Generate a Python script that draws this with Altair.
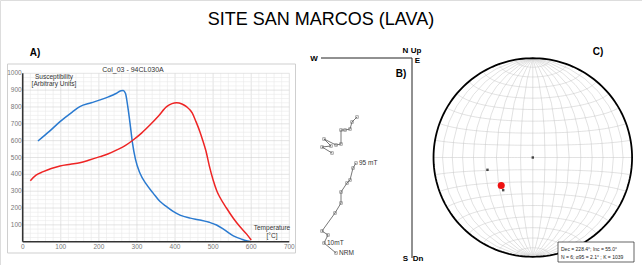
import altair as alt
import numpy as np
import pandas as pd

# ---------------- Panel A: susceptibility vs temperature ----------------
blue_T = [40, 70, 98, 130, 150, 180, 203, 225, 245, 258, 264, 270, 276, 282, 288, 296, 308, 325,
          343, 360, 378, 395, 413, 440, 465, 490, 509, 530, 553, 575, 590, 600]
blue_k = [598, 655, 713, 770, 802, 825, 842, 860, 880, 897, 898, 880, 800, 700, 590, 490, 406, 340,
          287, 240, 208, 180, 158, 140, 129, 115, 99, 70, 35, 15, 5, 0]
red_T = [20, 35, 54, 75, 98, 125, 150, 175, 203, 225, 247, 270, 290, 312, 334, 356, 378, 392, 404,
         418, 430, 445, 455, 465, 473, 481, 490, 500, 510, 517, 535, 553, 570, 588, 600]
red_k = [362, 395, 416, 435, 450, 460, 469, 485, 505, 522, 545, 572, 604, 645, 693, 745, 802, 820, 825,
         818, 802, 765, 713, 655, 600, 540, 450, 366, 300, 267, 200, 139, 90, 45, 10]
x_ticks = [0, 100, 200, 300, 400, 500, 600, 700]
y_ticks = [100, 200, 300, 400, 500, 600, 700, 800, 900, 1000]
x_grid = list(range(20, 701, 20))
y_grid = list(range(25, 1001, 25))

# ---------------- Panel B: Zijderveld diagram ----------------
hor_E = [-80, -90, -81, -88, -76, -71, -71, -67, -62, -60, -55]
hor_N = [-95, -89, -88, -81, -87, -86, -72, -72, -71, -64, -59]
ver_E = [-76, -88, -84, -90, -77, -71, -71, -65, -62, -59, -56]
ver_U = [-195, -185, -177, -173, -155, -145, -134, -125, -122, -110, -105]
step_labels = ["NRM", "10mT", "", "", "", "", "", "", "", "", "95 mT"]

# ---------------- Panel C: stereonet ----------------
site_dec = [228.4]
site_inc = [55.0]
spec_dec = [0.0, 254.8, 222.2]
spec_inc = [90.0, 50.9, 53.4]
stats_lines = ["Dec = 228.4°; Inc = 55.0°", "N = 6;  α95 = 2.1° ; K = 1039"]

FONT = "Liberation Sans"

# ---------- Panel A scales ----------
xA = alt.Scale(domain=[0, 700], range=[22.7, 289.3], nice=False, zero=False)
yA = alt.Scale(domain=[0, 1000], range=[241.7, 73.3], nice=False, zero=False)

dfA = pd.DataFrame({
    "T": blue_T + red_T,
    "k": blue_k + red_k,
    "run": ["heat"] * len(blue_T) + ["cool"] * len(red_T),
})

frameA = alt.Chart(pd.DataFrame({"a": [0]})).mark_rect(
    fill="white", stroke="#cfcfcf", strokeWidth=1
).encode(x=alt.value(7.5), x2=alt.value(295.5), y=alt.value(64), y2=alt.value(253))

gx = pd.DataFrame({"g": x_grid, "lo": 0, "hi": 1000, "major": [v % 100 == 0 for v in x_grid]})
gy = pd.DataFrame({"g": y_grid, "lo": 0, "hi": 700, "major": [v % 100 == 0 for v in y_grid]})

gridX = alt.Chart(gx).mark_rule(strokeWidth=0.6).encode(
    x=alt.X("g:Q", scale=xA, axis=None),
    y=alt.Y("lo:Q", scale=yA, axis=None),
    y2="hi:Q",
    stroke=alt.condition("datum.major", alt.value("#d2d2d2"), alt.value("#eaeaea")),
)
gridY = alt.Chart(gy).mark_rule(strokeWidth=0.6).encode(
    y=alt.Y("g:Q", scale=yA, axis=None),
    x=alt.X("lo:Q", scale=xA, axis=None),
    x2="hi:Q",
    stroke=alt.condition("datum.major", alt.value("#d2d2d2"), alt.value("#eaeaea")),
)

curves = alt.Chart(dfA).mark_line(strokeWidth=1.5, interpolate="monotone").encode(
    x=alt.X("T:Q", scale=xA, axis=None),
    y=alt.Y("k:Q", scale=yA, axis=None),
    detail="run:N",
    stroke=alt.Stroke("run:N", scale=alt.Scale(domain=["heat", "cool"], range=["#2a7ad0", "#ee2424"]),
                      legend=None),
)

# tick labels drawn as text marks through panel A's scales
xtl = pd.DataFrame({"T": x_ticks, "k": 0, "lab": [str(v) for v in x_ticks]})
ytl = pd.DataFrame({"T": 0, "k": y_ticks, "lab": [str(v) for v in y_ticks]})
xTickText = alt.Chart(xtl).mark_text(
    font=FONT, fontSize=6.5, color="#777", baseline="top", dy=2
).encode(x=alt.X("T:Q", scale=xA, axis=None), y=alt.Y("k:Q", scale=yA, axis=None), text="lab:N")
yTickText = alt.Chart(ytl).mark_text(
    font=FONT, fontSize=6.5, color="#777", align="right", baseline="middle", dx=-1
).encode(x=alt.X("T:Q", scale=xA, axis=None), y=alt.Y("k:Q", scale=yA, axis=None), text="lab:N")

# dark axis lines of panel A (drawn last)
axisAx = alt.Chart(pd.DataFrame({"a": [0]})).mark_rule(color="#333333", strokeWidth=1.6).encode(
    x=alt.value(22.7), x2=alt.value(289.3), y=alt.value(241.7))
axisAy = alt.Chart(pd.DataFrame({"a": [0]})).mark_rule(color="#333333", strokeWidth=1.6).encode(
    x=alt.value(22.7), y=alt.value(73.3), y2=alt.value(241.7))


def label(text, x, y, size=7, bold=False, align="center", color="black", baseline="middle"):
    return alt.Chart(pd.DataFrame({"a": [0]})).mark_text(
        text=text, font=FONT, fontSize=size, fontWeight="bold" if bold else "normal",
        align=align, baseline=baseline, color=color
    ).encode(x=alt.value(x), y=alt.value(y))


labelsA = [
    label("SITE SAN MARCOS (LAVA)", 321, 20, size=18),
    label("A)", 35, 53, size=10, bold=True),
    label("Col_03 - 94CL030A", 133, 69.5, size=7, color="#333"),
    label("Susceptibility", 54, 77, size=6.5, color="#333"),
    label("[Arbitrary Units]", 54, 84, size=6.5, color="#333"),
    label("Temperature", 272, 227.5, size=6.5, color="#333"),
    label("[°C]", 272, 235.5, size=6.5, color="#333"),
]

# ---------- Panel B ----------
xB = alt.Scale(domain=[-100, 0], range=[312, 412], nice=False, zero=False)
yB = alt.Scale(domain=[-200, 0], range=[258, 58], nice=False, zero=False)

axesB = pd.DataFrame({"x": [-91, 0], "x2": [0, 0], "y": [0, -200], "y2": [0, 0]})
axesBrule = alt.Chart(axesB).mark_rule(color="#222", strokeWidth=1).encode(
    x=alt.X("x:Q", scale=xB, axis=None), x2="x2:Q",
    y=alt.Y("y:Q", scale=yB, axis=None), y2="y2:Q",
)

dfH = pd.DataFrame({"E": hor_E, "N": hor_N, "i": range(len(hor_E))})
dfV = pd.DataFrame({"E": ver_E, "U": ver_U, "i": range(len(ver_E)), "lab": step_labels})


def zij(df, ycol):
    base = alt.Chart(df).encode(
        x=alt.X("E:Q", scale=xB, axis=None),
        y=alt.Y(f"{ycol}:Q", scale=yB, axis=None),
        order="i:Q",
    )
    return [
        base.mark_line(color="#555", strokeWidth=0.8),
        base.mark_point(shape="square", size=7, filled=False, color="#666", strokeWidth=0.8),
    ]


zH = zij(dfH, "N")
zV = zij(dfV, "U")
stepText = alt.Chart(dfV).mark_text(
    font=FONT, fontSize=6.5, align="left", baseline="middle", dx=3, color="#333"
).encode(
    x=alt.X("E:Q", scale=xB, axis=None),
    y=alt.Y("U:Q", scale=yB, axis=None),
    text="lab:N",
)

labelsB = [
    label("W", 314, 59, size=8, bold=True),
    label("N", 405.5, 51, size=8, bold=True),
    label("Up", 416, 51, size=8, bold=True),
    label("E", 417.5, 61, size=8, bold=True),
    label("B)", 401, 73.5, size=10, bold=True),
    label("S", 405.5, 259, size=8, bold=True),
    label("Dn", 418, 259, size=8, bold=True),
    label("C)", 598, 52, size=10, bold=True),
]

# ---------- Panel C: equal-area stereonet ----------
proj = dict(type="azimuthalEqualArea", scale=70.2, translate=[532.8, 157.5], clipAngle=90)


def to_lonlat(dec, inc):
    d = np.radians(90 - np.array(inc))
    az = np.radians(np.array(dec))
    lat = np.degrees(np.arcsin(np.sin(d) * np.cos(az)))
    lon = np.degrees(np.arctan2(np.sin(az) * np.sin(d), np.cos(d)))
    return lon, lat


lon_s, lat_s = to_lonlat(spec_dec, spec_inc)
lon_m, lat_m = to_lonlat(site_dec, site_inc)
dfS = pd.DataFrame({"lon": lon_s, "lat": lat_s})
dfM = pd.DataFrame({"lon": lon_m, "lat": lat_m})

grat = alt.Chart(
    alt.graticule(step=[10, 10], extentMinor=[[-180, -90.001], [180, 90.001]])
).mark_geoshape(
    filled=False, stroke="#c4c4c4", strokeWidth=0.5
).project(**proj)
sphere = alt.Chart(alt.sphere()).mark_geoshape(
    filled=False, stroke="black", strokeWidth=1.8
).project(**proj)
specPts = alt.Chart(dfS).mark_point(shape="square", size=6, filled=True, color="black").encode(
    longitude="lon:Q", latitude="lat:Q"
).project(**proj)
meanPt = alt.Chart(dfM).mark_circle(size=50, color="#ee1111", opacity=1).encode(
    longitude="lon:Q", latitude="lat:Q"
).project(**proj)

statBox = alt.Chart(pd.DataFrame({"a": [0]})).mark_rect(
    fill="white", stroke="#222", strokeWidth=0.7
).encode(x=alt.value(558), x2=alt.value(634), y=alt.value(242), y2=alt.value(262))
statText = [
    label(stats_lines[0], 561, 248.5, size=5, align="left", color="#222"),
    label(stats_lines[1], 561, 256.5, size=5, align="left", color="#222"),
]

chart = alt.layer(
    frameA, gridX, gridY, curves, xTickText, yTickText, *labelsA,
    axesBrule, *zH, *zV, stepText, *labelsB,
    grat, sphere, specPts, meanPt, statBox, *statText,
    axisAx, axisAy,
).resolve_scale(
    x="independent", y="independent"
).properties(
    width=642, height=265, autosize=alt.AutoSizeParams(type="none"), padding=0,
).configure_view(stroke=None).configure(background="white")

chart.save("out.html", embed_options={"renderer": "svg", "actions": False})
